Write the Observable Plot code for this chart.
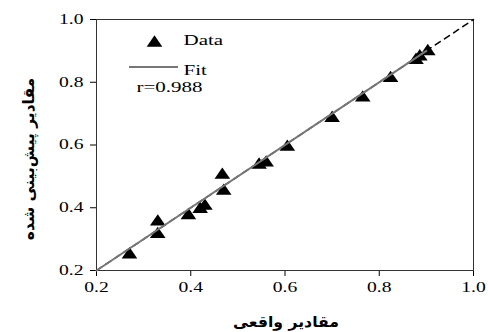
<!DOCTYPE html>
<html><head><meta charset="utf-8">
<script src="https://cdn.jsdelivr.net/npm/d3@7"></script>
<script src="https://cdn.jsdelivr.net/npm/@observablehq/plot@0.6"></script>
<style>
body{margin:0;background:#fff}
#chart svg text{font-family:"Liberation Serif","DejaVu Serif",serif !important}
#chart svg text.ar{font-family:"DejaVu Sans",sans-serif !important}
</style>
</head><body><div id="chart"></div>
<script>
const actual    = [0.27, 0.33, 0.33, 0.395, 0.42, 0.43, 0.467, 0.47, 0.545, 0.56, 0.605, 0.70, 0.765, 0.824, 0.878, 0.886, 0.903];
const predicted = [0.255, 0.36, 0.32, 0.38, 0.40, 0.41, 0.509, 0.458, 0.541, 0.548, 0.598, 0.69, 0.755, 0.817, 0.875, 0.886, 0.903];
const fitX = [0.2, 0.9];
const fitY = [0.2, 0.9];
const oneToOne = [0.2, 1.0];
const ticks = [0.2, 0.4, 0.6, 0.8, 1.0];
const r = 0.988;
const xLabel = "مقادیر واقعی";
const yLabel = "مقادیر پیش‌بینی شده";

const pts = actual.map((a, i) => ({x: a, y: predicted[i]}));

// wide triangle symbol (the reference is horizontally stretched)
const wideTriangle = {
  draw(ctx, size) {
    const s = Math.sqrt(size / Math.PI);
    ctx.moveTo(0, -0.95 * s);
    ctx.lineTo(1.2 * s, 0.8 * s);
    ctx.lineTo(-1.2 * s, 0.8 * s);
    ctx.closePath();
  }
};

const chart = Plot.plot({
  width: 488, height: 332,
  marginLeft: 96, marginRight: 15, marginTop: 19, marginBottom: 62,
  style: {fontSize: "14px", color: "#000", background: "#fff"},
  x: {domain: [0.2, 1.0], ticks, tickFormat: d3.format(".1f"), tickSize: 6, tickPadding: 6, label: null},
  y: {domain: [0.2, 1.0], ticks, tickFormat: d3.format(".1f"), tickSize: 6, tickPadding: 7, label: null},
  marks: [
    Plot.frame({stroke: "#333", strokeWidth: 1}),
    Plot.line(oneToOne.map(v => ({x: v, y: v})), {x: "x", y: "y", stroke: "#000", strokeWidth: 1.5, strokeDasharray: "6,5"}),
    Plot.dot(pts, {x: "x", y: "y", symbol: wideTriangle, r: 6.5, fill: "#000", stroke: "none"}),
    Plot.line(fitX.map((v, i) => ({x: v, y: fitY[i]})), {x: "x", y: "y", stroke: "#777", strokeWidth: 2}),
    // legend
    Plot.dot([0], {frameAnchor: "top-left", dx: 58, dy: 22, symbol: wideTriangle, r: 6.5, fill: "#000"}),
    Plot.text(["Data"], {frameAnchor: "top-left", dx: 87, dy: 21, textAnchor: "start", lineAnchor: "middle", fontSize: 15}),
    Plot.text(["Fit"], {frameAnchor: "top-left", dx: 87, dy: 51, textAnchor: "start", lineAnchor: "middle", fontSize: 15}),
    Plot.text([`r=${r}`], {frameAnchor: "top-left", dx: 40, dy: 68, textAnchor: "start", lineAnchor: "middle", fontSize: 15})
  ]
});

const svg = d3.select(chart);
svg.append("line").attr("x1", 129).attr("x2", 178).attr("y1", 67).attr("y2", 67)
  .attr("stroke", "#777").attr("stroke-width", 2);

document.getElementById("chart").appendChild(chart);

// stretch horizontal text 1.4x, like the reference
const SX = 1.4;
svg.selectAll("text").each(function() {
  const w = this.getComputedTextLength();
  if (w > 0) {
    d3.select(this).attr("textLength", w * SX).attr("lengthAdjust", "spacingAndGlyphs");
  }
});

// axis titles, centred from their measured boxes
const xt = svg.append("text").attr("class", "ar").attr("x", 0).attr("y", 327).attr("text-anchor", "start")
  .attr("font-weight", "bold").attr("font-size", 15)
  .attr("textLength", 106).attr("lengthAdjust", "spacingAndGlyphs")
  .text(xLabel);
{ const bb = xt.node().getBBox(); xt.attr("x", 286 - (bb.x + bb.width / 2)); }

const yt = svg.append("text").attr("class", "ar").attr("transform", "translate(29,0) rotate(-90)")
  .attr("x", 0).attr("y", 0).attr("text-anchor", "start")
  .attr("font-weight", "bold").attr("font-size", 15.5).attr("dy", "0.35em")
  .text(yLabel);
{ const bb = yt.node().getBBox(); yt.attr("x", -159 - (bb.x + bb.width / 2)); }
</script></body></html>
